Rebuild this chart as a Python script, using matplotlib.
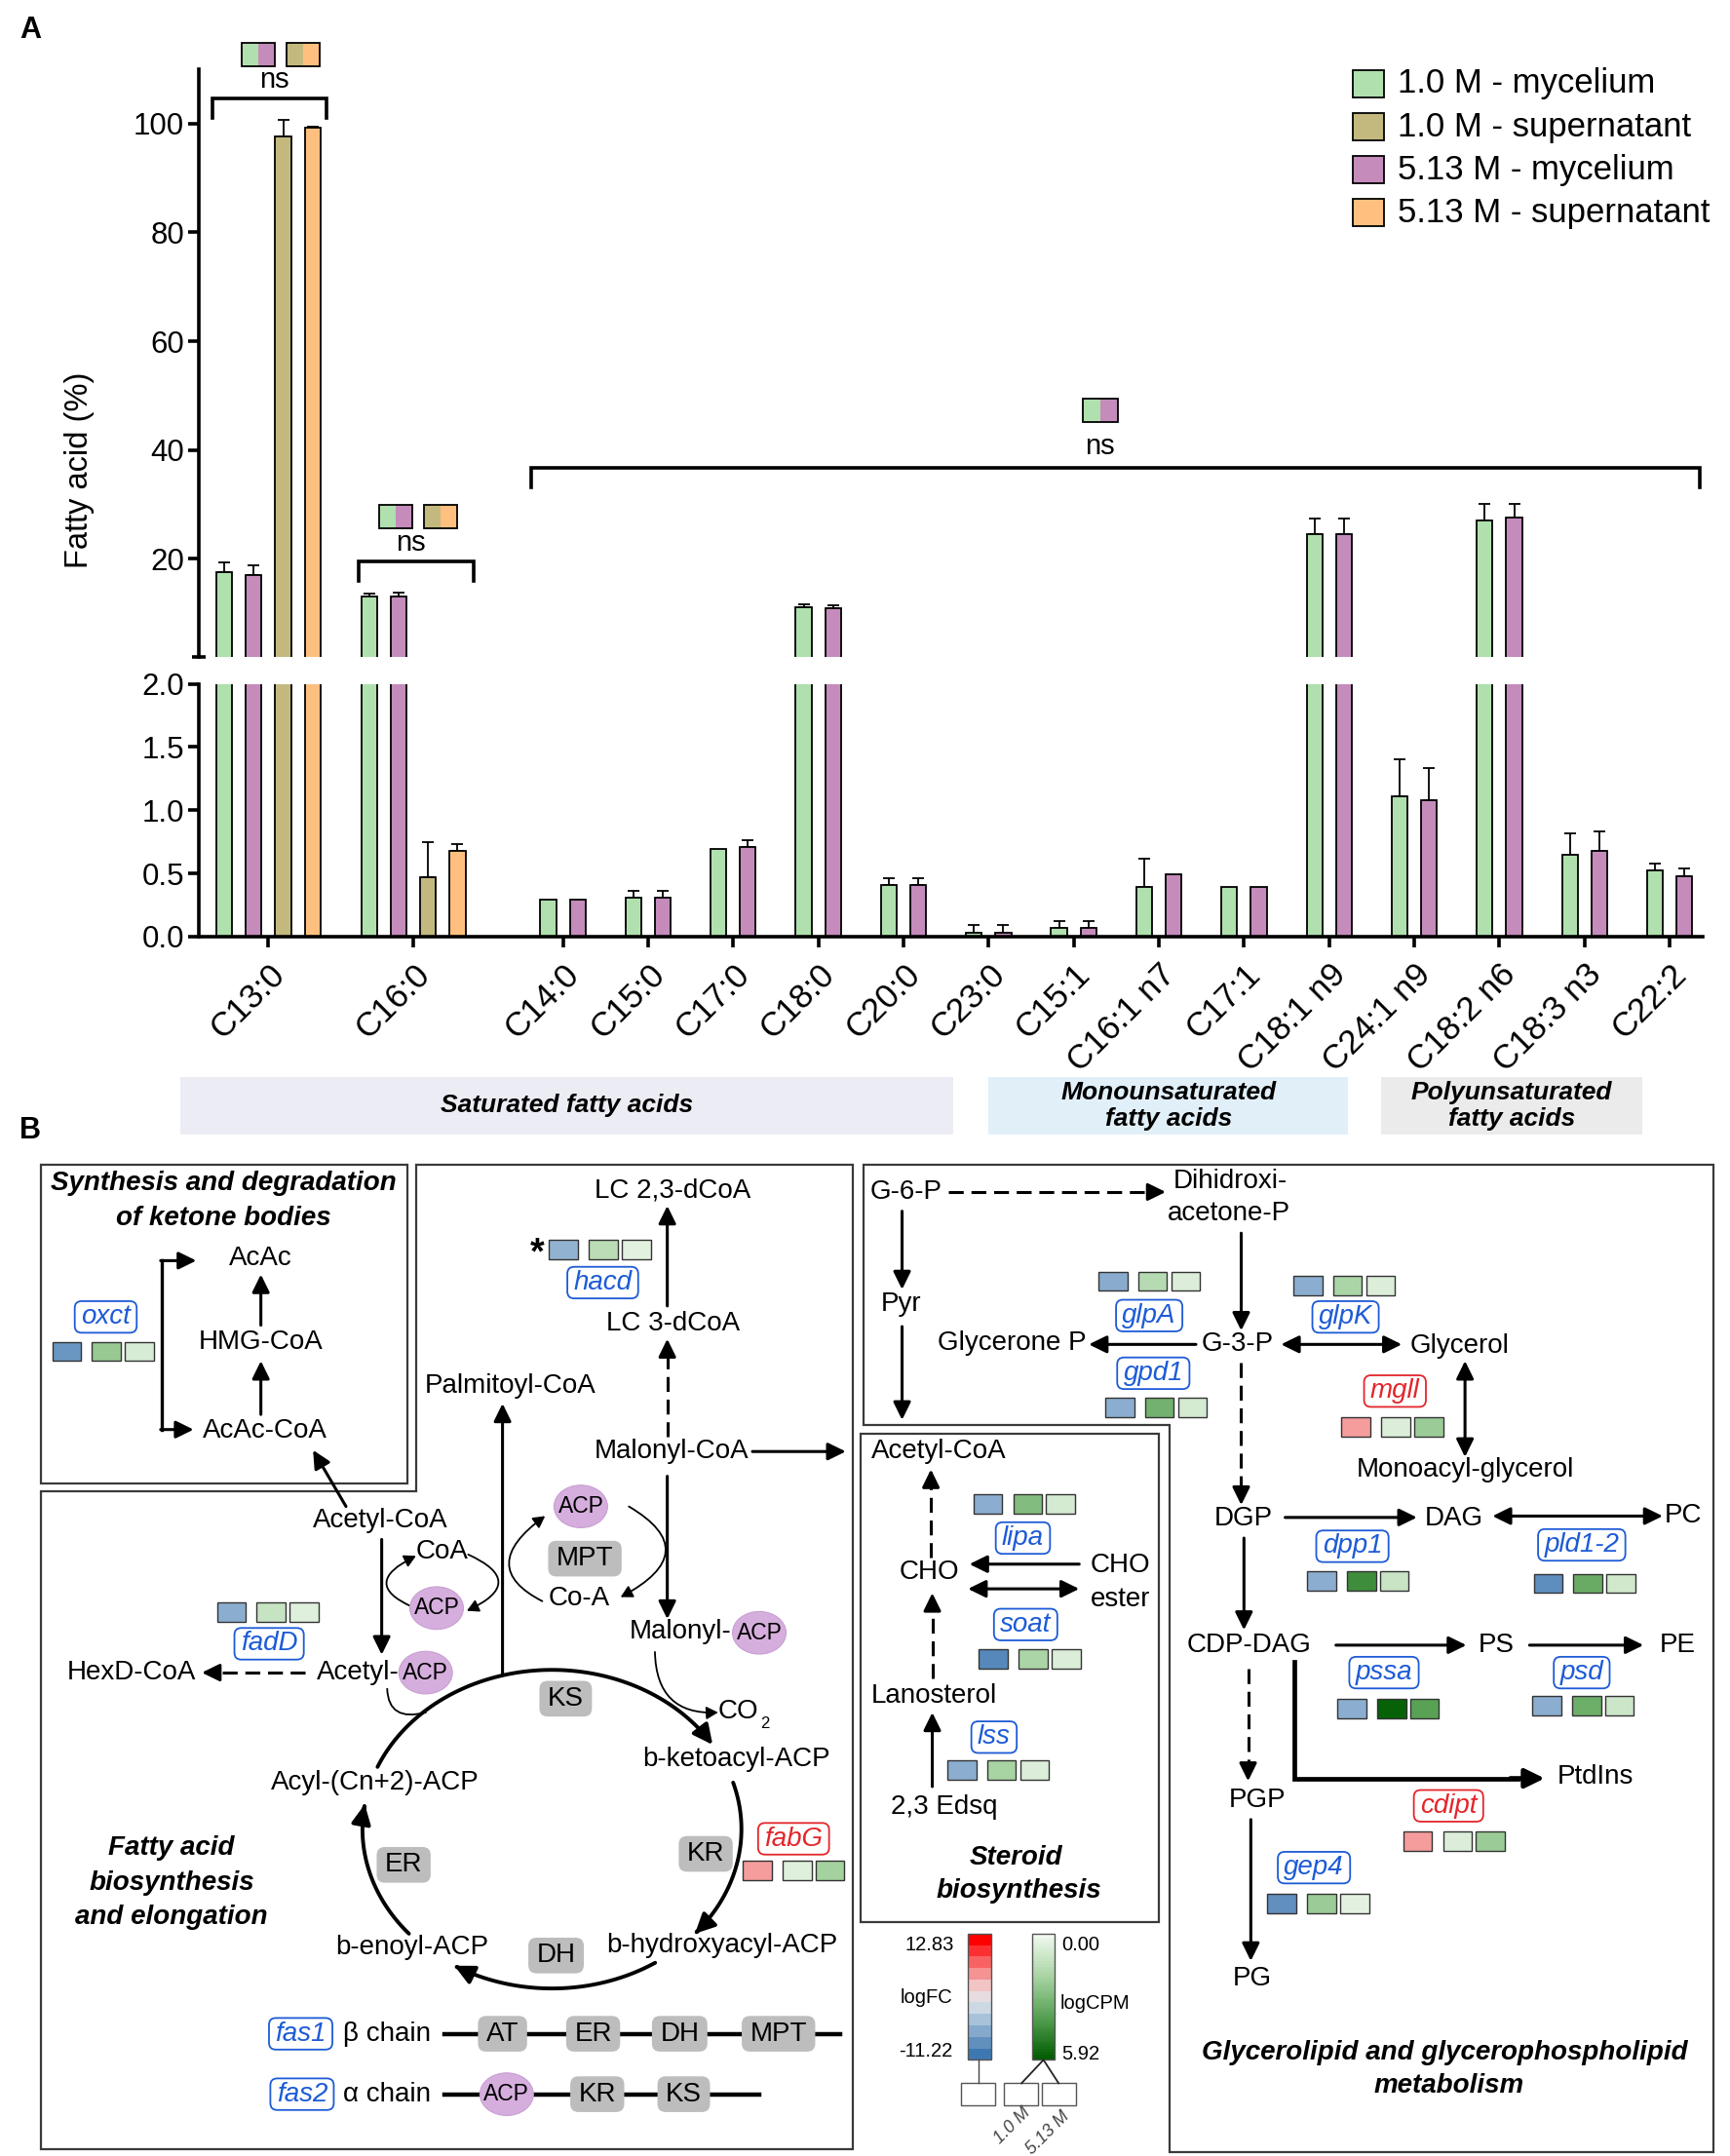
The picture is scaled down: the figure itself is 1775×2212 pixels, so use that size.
import matplotlib.pyplot as plt
import numpy as np
from matplotlib.patches import Rectangle, Ellipse, FancyArrowPatch, FancyBboxPatch, Polygon
from matplotlib.path import Path
from matplotlib.colors import LinearSegmentedColormap, Normalize

plt.rcParams['font.family'] = ['Liberation Sans', 'DejaVu Sans']

# ---------------- A: fatty acid composition (%) ----------------
acids = ['C13:0', 'C16:0', 'C14:0', 'C15:0', 'C17:0', 'C18:0', 'C20:0', 'C23:0',
         'C15:1', 'C16:1 n7', 'C17:1', 'C18:1 n9', 'C24:1 n9', 'C18:2 n6', 'C18:3 n3', 'C22:2']
myc_10 = [17.5, 13.1, 0.29, 0.31, 0.69, 11.1, 0.41, 0.03, 0.07, 0.39, 0.39, 24.6, 1.11, 27.1, 0.65, 0.52]
myc_10_err = [1.9, 0.6, 0, 0.05, 0, 0.6, 0.05, 0.06, 0.05, 0.23, 0, 2.8, 0.29, 3.0, 0.17, 0.06]
myc_513 = [17.0, 13.1, 0.29, 0.31, 0.71, 10.9, 0.41, 0.03, 0.07, 0.49, 0.39, 24.5, 1.08, 27.6, 0.68, 0.48]
myc_513_err = [1.8, 0.7, 0, 0.05, 0.05, 0.5, 0.05, 0.06, 0.05, 0, 0, 2.9, 0.25, 2.5, 0.15, 0.06]
sup_acids = ['C13:0', 'C16:0']
sup_10 = [97.6, 0.47]
sup_10_err = [3.0, 0.28]
sup_513 = [99.2, 0.68]
sup_513_err = [0.3, 0.05]
series_names = ['1.0 M - mycelium', '1.0 M - supernatant', '5.13 M - mycelium', '5.13 M - supernatant']

# ---------------- B: gene expression cells ----------------
genes = ['oxct', 'hacd', 'fadD', 'fabG', 'glpA', 'gpd1', 'glpK', 'mgll', 'lipa',
         'soat', 'lss', 'dpp1', 'pld1-2', 'pssa', 'psd', 'cdipt', 'gep4']
gene_fc = [-8.3, -5.5, -6.0, 5.2, -6.2, -6.0, -6.0, 5.2, -6.0, -9.6, -6.0, -6.0, -9.0, -6.0, -6.0, 5.2, -8.8]
gene_cpm10 = [2.4, 1.5, 1.2, 0.5, 1.6, 3.3, 1.9, 0.6, 2.9, 1.9, 2.0, 4.5, 3.5, 5.75, 3.4, 0.6, 2.3]
gene_cpm513 = [0.7, 0.4, 0.5, 2.1, 0.6, 0.8, 0.6, 2.3, 0.8, 0.6, 0.6, 1.1, 0.9, 3.9, 1.0, 2.3, 0.4]
fc_min, fc_max = -11.22, 12.83
cpm_min, cpm_max = 0.00, 5.92

# layout (picture units: 1260 x 1570)
lab_xy = {'oxct': (77, 959), 'hacd': (439, 934), 'fadD': (196, 1197), 'fabG': (578, 1339),
          'glpA': (837, 958), 'gpd1': (840, 1000), 'glpK': (980, 959), 'mgll': (1016, 1013),
          'lipa': (745, 1120), 'soat': (747, 1183), 'lss': (724, 1265), 'dpp1': (985, 1126),
          'pld1-2': (1152, 1125), 'pssa': (1008, 1218), 'psd': (1152, 1218),
          'cdipt': (1055, 1315), 'gep4': (957, 1360)}
cell_xy = {'oxct': (38, 984), 'hacd': (400, 910), 'fadD': (158, 1174), 'fabG': (541, 1362),
           'glpA': (800, 933), 'gpd1': (805, 1025), 'glpK': (942, 936), 'mgll': (977, 1039),
           'lipa': (709, 1095), 'soat': (713, 1208), 'lss': (690, 1289), 'dpp1': (952, 1151),
           'pld1-2': (1117, 1153), 'pssa': (974, 1244), 'psd': (1116, 1242),
           'cdipt': (1022, 1341), 'gep4': (923, 1386)}

W, H = 1260, 1570
fig = plt.figure(figsize=(17.75, 22.12), dpi=100)


def rect(x0, y0, x1, y1):
    return [x0 / W, 1 - y1 / H, (x1 - x0) / W, (y1 - y0) / H]


ax_up = fig.add_axes(rect(145, 50.4, 1240, 478.3))
ax_lo = fig.add_axes(rect(145, 498, 1240, 682))

centers = np.array([0.815, 2.516] + [4.274 + i for i in range(len(acids) - 2)])
four = np.arange(len(acids)) < len(sup_acids)
bw = 0.185
x_m10 = centers + np.where(four, -0.52, -0.173)
x_m513 = centers + np.where(four, -0.173, 0.173)
x_s10 = centers[:2] + 0.173
x_s513 = centers[:2] + 0.52
cols = {'m10': '#AFE0AE', 's10': '#C3B97E', 'm513': '#C48BBB', 's513': '#FFC07F'}
series = [(x_m10, myc_10, myc_10_err, cols['m10']),
          (x_m513, myc_513, myc_513_err, cols['m513']),
          (x_s10, sup_10, sup_10_err, cols['s10']),
          (x_s513, sup_513, sup_513_err, cols['s513'])]

for ax in (ax_up, ax_lo):
    for xs, vals, errs, col in series:
        vals = np.array(vals)
        errs = np.array(errs)
        ax.bar(xs, vals, bw, color=col, edgecolor='black', linewidth=1.3, zorder=2)
        m = errs > 0
        ax.errorbar(xs[m], vals[m], yerr=[np.zeros(m.sum()), errs[m]], fmt='none',
                    ecolor='black', elinewidth=1.3, capsize=4.5, capthick=1.3, zorder=1)
    ax.set_xlim(0, 17.66)
    for s in ['top', 'right']:
        ax.spines[s].set_visible(False)
    ax.spines['left'].set_linewidth(2.6)
    ax.tick_params(axis='y', length=8, width=2.6, labelsize=22.5, pad=3)

ax_up.spines['bottom'].set_visible(False)
ax_up.set_ylim(2, 110)
ax_up.set_yticks([20, 40, 60, 80, 100])
ax_up.set_yticks([2], minor=True)
ax_up.tick_params(axis='y', which='minor', length=10, width=2.6, direction='inout')
ax_up.set_xticks([])

ax_lo.set_ylim(0, 2)
ax_lo.set_yticks([0, 0.5, 1.0, 1.5, 2.0])
ax_lo.set_yticklabels(['0.0', '0.5', '1.0', '1.5', '2.0'])
ax_lo.spines['bottom'].set_linewidth(2.6)
ax_lo.set_xticks(centers)
ax_lo.set_xticklabels(acids, rotation=45, ha='right', va='top', rotation_mode='anchor')
ax_lo.tick_params(axis='x', length=8, width=2.6, labelsize=25, pad=8)

# ---------------- overlay in picture units ----------------
ov = fig.add_axes([0, 0, 1, 1], zorder=5)
ov.axis('off')


def t(x, y, s, fs=20, **kw):
    kw.setdefault('ha', 'center')
    kw.setdefault('va', 'center')
    return ov.text(x, y, s, fontsize=fs, **kw)


def arrow(x0, y0, x1, y1, lw=2.2, ms=20, both=False, dashed=False):
    style = ('<|-|>' if both else '-|>') + ',head_length=0.55,head_width=0.27'
    if dashed:
        d = np.hypot(x1 - x0, y1 - y0)
        ux, uy = (x1 - x0) / d, (y1 - y0) / d
        ov.plot([x0, x1 - ux * 10], [y0, y1 - uy * 10], color='k', lw=lw,
                ls=(0, (5, 2.6)), dash_capstyle='butt')
        x0, y0 = x1 - ux * 12, y1 - uy * 12
    ov.annotate('', xy=(x1, y1), xytext=(x0, y0),
                arrowprops=dict(arrowstyle=style, lw=lw, color='k', shrinkA=0, shrinkB=0,
                                mutation_scale=ms))


def curve(p0, c, p1, lw=1.3, ms=13):
    path = Path([p0, c, p1], [Path.MOVETO, Path.CURVE3, Path.CURVE3])
    ov.add_patch(FancyArrowPatch(path=path, arrowstyle='-|>,head_length=0.55,head_width=0.3',
                                 mutation_scale=ms, lw=lw, color='k'))


def acp(x, y):
    ov.add_patch(Ellipse((x, y), 39, 31, fc='#D5AEDD', ec='#C89FD2', lw=0.8, zorder=2.5))
    t(x, y, 'ACP', 16.5, zorder=3)


# panel A annotations
t(22, 22, 'A', 22, fontweight='bold')
t(22, 823, 'B', 22, fontweight='bold')
t(58, 342, 'Fatty acid (%)', 23.5, rotation=90)

for i, (name, col) in enumerate(zip(series_names, [cols['m10'], cols['s10'], cols['m513'], cols['s513']])):
    yy = 61 + i * 31.3
    ov.add_patch(Rectangle((985, yy - 10), 23, 20, fc=col, ec='black', lw=1.3))
    t(1018, yy, name, 25, ha='left')


def split_sq(x, y, cl, cr, w=24, h=17):
    ov.add_patch(Rectangle((x, y), w / 2, h, fc=cl, ec='none'))
    ov.add_patch(Rectangle((x + w / 2, y), w / 2, h, fc=cr, ec='none'))
    ov.add_patch(Rectangle((x, y), w, h, fc='none', ec='black', lw=1.3))


def bracket(x0, x1, y, leg=14):
    ov.plot([x0, x0, x1, x1], [y + leg, y, y, y + leg], color='k', lw=2.6, solid_joinstyle='miter')


split_sq(176, 31, cols['m10'], cols['m513'])
split_sq(209, 31, cols['s10'], cols['s513'])
bracket(155, 238, 72)
t(200, 58, 'ns', 21)
split_sq(276, 368, cols['m10'], cols['m513'])
split_sq(309, 368, cols['s10'], cols['s513'])
bracket(261, 345, 409)
t(299, 395, 'ns', 21)
split_sq(789, 290, cols['m10'], cols['m513'], w=25)
bracket(387, 1238, 341)
t(801, 325, 'ns', 21)

bands = [(131, 694, 'Saturated fatty acids', '#ECECF4'),
         (720, 982, 'Monounsaturated\nfatty acids', '#E1EFF9'),
         (1006, 1196, 'Polyunsaturated\nfatty acids', '#EBEBEB')]
for x0, x1, name, col in bands:
    ov.add_patch(Rectangle((x0, 784), x1 - x0, 42, fc=col, ec='none'))
    t((x0 + x1) / 2, 805, name, 19, fontweight='bold', fontstyle='italic', linespacing=1.15)

# ---------------- B: boxes ----------------
bc = '#3A3A3A'
ov.add_patch(Rectangle((30, 848), 267, 232, fc='none', ec=bc, lw=1.6))
ov.add_patch(Polygon([(30, 1086), (303, 1086), (303, 848), (621, 848), (621, 1565), (30, 1565)],
                     closed=True, fc='none', ec=bc, lw=1.6))
ov.add_patch(Polygon([(629, 848), (1248, 848), (1248, 1567), (852, 1567), (852, 1038), (629, 1038)],
                     closed=True, fc='none', ec=bc, lw=1.6))
ov.add_patch(Rectangle((627, 1044), 217, 356, fc='none', ec=bc, lw=1.6))

bi = dict(fontweight='bold', fontstyle='italic')
# ketone bodies
t(163, 862, 'Synthesis and degradation', 20, **bi)
t(163, 887, 'of ketone bodies', 20, **bi)
t(190, 916, 'AcAc')
t(190, 977, 'HMG-CoA')
t(193, 1042, 'AcAc-CoA')
arrow(190, 965, 190, 928)
arrow(190, 1030, 190, 991)
ov.plot([118, 118], [918, 1041], color='k', lw=2.4)
arrow(117, 918, 143, 918)
arrow(117, 1041, 141, 1041)
arrow(252, 1097, 228, 1056)

# fatty acid biosynthesis
t(277, 1107, 'Acetyl-CoA')
t(322, 1130, 'CoA')
acp(318, 1171)
curve((300, 1170), (262, 1153), (303, 1133))
curve((341, 1132), (385, 1152), (340, 1173))
arrow(278, 1121, 278, 1205)
t(291, 1218, 'Acetyl-', ha='right')
acp(310, 1218)
t(96, 1218, 'HexD-CoA')
arrow(222, 1218, 147, 1218, dashed=True)
ov.plot(*zip(*Path([(282, 1230), (283, 1254), (310, 1247)],
                   [Path.MOVETO, Path.CURVE3, Path.CURVE3]).to_polygons(closed_only=False)[0]),
        color='k', lw=1.3)
t(372, 1009, 'Palmitoyl-CoA')
arrow(366, 1220, 366, 1022)
t(490, 867, 'LC 2,3-dCoA')
arrow(486, 951, 486, 878)
t(391, 913, '*', 27, fontweight='bold')
t(490, 964, 'LC 3-dCoA')
arrow(486, 1046, 486, 975, dashed=True)
t(489, 1057, 'Malonyl-CoA')
arrow(548, 1057, 616, 1057)
arrow(486, 1075, 486, 1179)
acp(423, 1097)
t(422, 1164, 'Co-A')
curve((458, 1097), (514, 1130), (452, 1163))
curve((395, 1166), (346, 1141), (397, 1104))
t(533, 1188, 'Malonyl-', ha='right')
acp(553, 1189)
curve((477, 1203), (478, 1249), (523, 1247))
t(538, 1246, 'CO')
t(557, 1255, '2', 12)

cx, cy, rx, ry = 402, 1332, 138, 116
for a0, a1 in [(157, 32), (17, -41), (-57, -121), (221, 171)]:
    ang = np.radians(np.linspace(a0, a1, 80))
    pts = np.column_stack([cx + rx * np.cos(ang), cy - ry * np.sin(ang)])
    ov.add_patch(FancyArrowPatch(path=Path(pts), arrowstyle='-|>,head_length=0.55,head_width=0.27',
                                 mutation_scale=22, lw=2.8, color='k'))
t(536, 1281, 'b-ketoacyl-ACP')
t(273, 1298, 'Acyl-(Cn+2)-ACP')
t(300, 1418, 'b-enoyl-ACP')
t(526, 1417, 'b-hydroxyacyl-ACP')
t(125, 1346, 'Fatty acid', 20, **bi)
t(125, 1371, 'biosynthesis', 20, **bi)
t(125, 1396, 'and elongation', 20, **bi)

gray = []
for s, x, y in [('KS', 412, 1237), ('KR', 514, 1350), ('DH', 405, 1424), ('ER', 294, 1358),
                ('MPT', 426, 1135)]:
    gray.append(t(x, y, s, zorder=3))

# fas rows
ov.plot([324, 612], [1481, 1481], color='k', lw=3.2)
ov.plot([324, 553], [1525, 1525], color='k', lw=3.2)
t(250, 1481, 'β chain', ha='left')
t(250, 1525, 'α chain', ha='left')
for s, x in [('AT', 366), ('ER', 432), ('DH', 495), ('MPT', 567)]:
    gray.append(t(x, 1481, s, zorder=3))
acp(369, 1525)
for s, x in [('KR', 435), ('KS', 498)]:
    gray.append(t(x, 1525, s, zorder=3))

# steroid biosynthesis
t(684, 1057, 'Acetyl-CoA')
arrow(678, 1134, 678, 1070, dashed=True)
t(677, 1145, 'CHO')
arrow(786, 1139, 706, 1139)
arrow(705, 1157, 786, 1157, both=True)
t(816, 1140, 'CHO')
t(816, 1165, 'ester')
t(680, 1235, 'Lanosterol')
arrow(679, 1222, 679, 1160, dashed=True)
arrow(679, 1301, 679, 1247)
t(688, 1316, '2,3 Edsq')
t(740, 1353, 'Steroid', 20, **bi)
t(742, 1377, 'biosynthesis', 20, **bi)

# glycerolipid and glycerophospholipid metabolism
t(660, 868, 'G-6-P')
arrow(691, 868, 849, 868, dashed=True)
t(896, 860, 'Dihidroxi-')
t(895, 884, 'acetone-P')
arrow(657, 882, 657, 939)
t(656, 950, 'Pyr')
arrow(657, 966, 657, 1034)
arrow(904, 898, 904, 969)
t(901, 979, 'G-3-P')
arrow(871, 979, 793, 979)
t(737, 978, 'Glycerone P')
arrow(933, 979, 1021, 979, both=True)
t(1063, 980, 'Glycerol')
arrow(1067, 991, 1067, 1061, both=True)
t(1067, 1070, 'Monoacyl-glycerol')
arrow(904, 992, 904, 1096, dashed=True)
t(906, 1106, 'DGP')
arrow(936, 1105, 1032, 1105)
t(1059, 1106, 'DAG')
arrow(1087, 1104, 1211, 1104, both=True)
t(1226, 1104, 'PC')
arrow(906, 1120, 906, 1187)
t(910, 1198, 'CDP-DAG')
arrow(973, 1198, 1068, 1198)
t(1090, 1198, 'PS')
arrow(1114, 1198, 1197, 1198)
t(1222, 1198, 'PE')
arrow(909, 1215, 909, 1297, dashed=True)
ov.plot([943, 943, 1105], [1210, 1295, 1295], color='k', lw=3.4, solid_joinstyle='miter')
arrow(1100, 1295, 1125, 1295, lw=3.4, ms=22)
t(1162, 1294, 'PtdIns')
t(916, 1311, 'PGP')
arrow(911, 1325, 911, 1428)
t(912, 1441, 'PG')
t(1052, 1495, 'Glycerolipid and glycerophospholipid', 20, **bi)
t(1055, 1519, 'metabolism', 20, **bi)

# gene cells and labels
fc_cmap = LinearSegmentedColormap.from_list(
    'fc', [(0, '#3E78B2'), (0.3, '#A9C2DA'), (0.467, '#E3E6EA'), (0.6, '#F2C4C4'), (1, '#FF0000')])
fc_norm = Normalize(fc_min, fc_max)
cpm_cmap = LinearSegmentedColormap.from_list(
    'cpm', [(0, '#F1F9EF'), (0.35, '#A5D2A0'), (0.7, '#4E9A4B'), (1, '#005C00')])
cpm_norm = Normalize(cpm_min, cpm_max)

gene_txt = []
for g, fc, c1, c2 in zip(genes, gene_fc, gene_cpm10, gene_cpm513):
    x, y = cell_xy[g]
    for xx, col in [(x, fc_cmap(fc_norm(fc))), (x + 29, cpm_cmap(cpm_norm(c1))),
                    (x + 53, cpm_cmap(cpm_norm(c2)))]:
        ov.add_patch(Rectangle((xx, y - 7), 21, 14, fc=col, ec='#333333', lw=1.0))
    lc = '#E3262B' if fc > 0 else '#1D5BD6'
    lx, ly = lab_xy[g]
    gene_txt.append((t(lx, ly, g, 20, fontstyle='italic', color=lc, zorder=3), lc))
for g, x, y in [('fas1', 219, 1481), ('fas2', 220, 1525)]:
    gene_txt.append((t(x, y, g, 20, fontstyle='italic', color='#1D5BD6', zorder=3), '#1D5BD6'))

# colour keys
nb = 11
for i in range(nb):
    v = fc_max - i * (fc_max - fc_min) / (nb - 1)
    ov.add_patch(Rectangle((705, 1408 + i * 92 / nb), 17, 92 / nb + 0.3, fc=fc_cmap(fc_norm(v)), ec='none'))
ov.add_patch(Rectangle((705, 1408), 17, 92, fc='none', ec='#555555', lw=1))
ng = 46
for i in range(ng):
    v = cpm_min + i * (cpm_max - cpm_min) / (ng - 1)
    ov.add_patch(Rectangle((752, 1408 + i * 92 / ng), 16, 92 / ng + 0.3, fc=cpm_cmap(cpm_norm(v)), ec='none'))
ov.add_patch(Rectangle((752, 1408), 16, 92, fc='none', ec='#555555', lw=1))
t(695, 1416, f'{fc_max:.2f}', 14.5, ha='right')
t(694, 1455, 'logFC', 14.5, ha='right')
t(694, 1494, f'{fc_min:.2f}', 14.5, ha='right')
t(773, 1416, f'{cpm_min:.2f}', 14.5, ha='left')
t(772, 1459, 'logCPM', 14.5, ha='left')
t(773, 1496, f'{cpm_max:.2f}', 14.5, ha='left')
ov.plot([713, 713], [1500, 1517], color='#444444', lw=1)
ov.plot([744, 760, 771], [1517, 1500, 1517], color='#222222', lw=1.3)
for x0 in [700, 731, 759]:
    ov.add_patch(Rectangle((x0, 1517), 25, 16, fc='white', ec='#555555', lw=1))
t(737, 1548, '1.0 M', 13, rotation=45, fontstyle='italic', color='#444444')
t(763, 1553, '5.13 M', 13, rotation=45, fontstyle='italic', color='#444444')

ov.set_xlim(0, W)
ov.set_ylim(H, 0)

# boxes sized to the label text
fig.canvas.draw()
rend = fig.canvas.get_renderer()
inv = ov.transData.inverted()


def box_behind(txt, h, pad, fc, ec, lw, rs):
    bb = txt.get_window_extent(rend)
    (xa, _), (xb, _) = inv.transform([[bb.x0, bb.y0], [bb.x1, bb.y1]])
    x, y = txt.get_position()
    w = abs(xb - xa) + pad
    ov.add_patch(FancyBboxPatch((x - w / 2, y - h / 2), w, h,
                                boxstyle=f'round,pad=0,rounding_size={rs}',
                                fc=fc, ec=ec, lw=lw, zorder=2.5))


for tx, lc in gene_txt:
    box_behind(tx, 23, 9, 'white', lc, 1.3, 5)
for tx in gray:
    box_behind(tx, 26, 12, '#BDBDBD', 'none', 0, 6)

ov.set_xlim(0, W)
ov.set_ylim(H, 0)
fig.savefig('out.png', dpi=100)
